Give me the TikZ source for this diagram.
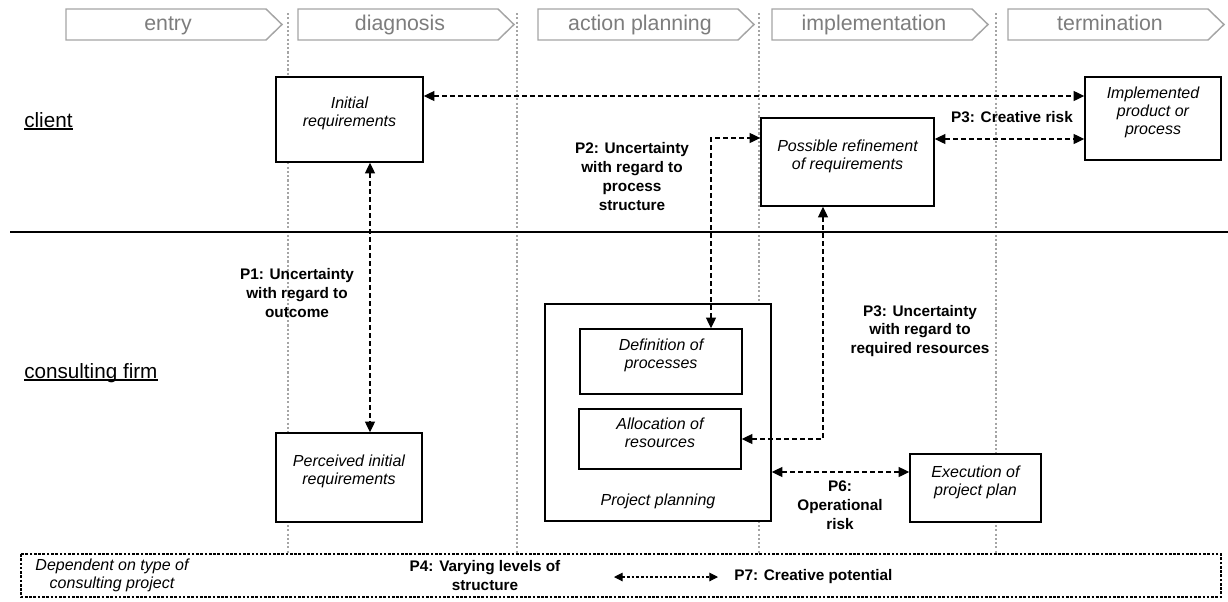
\documentclass[tikz,border=0pt]{standalone}
\usepackage{fontspec}
\setmainfont{Liberation Sans}
\usetikzlibrary{arrows.meta,fit}
\definecolor{phasegray}{RGB}{165,165,165}
\definecolor{phasetext}{RGB}{125,125,125}
\definecolor{gridgray}{RGB}{165,165,165}
\newcommand{\myul}[1]{\setbox0\hbox{#1}\rlap{\rule[-2pt]{\wd0}{0.9pt}}\box0}
\begin{document}
\begin{tikzpicture}[x=0.75pt,y=-0.75pt,
  phase/.style={draw=phasegray, line width=1.1pt, fill=white},
  phaselabel/.style={text=phasetext, anchor=base, inner sep=0pt, font=\fontsize{16}{18}\selectfont},
  gridline/.style={draw=gridgray, line width=0.8pt, dash pattern=on 1.6pt off 1.6pt},
  box/.style={draw, line width=1.1pt, fill=white, inner sep=0pt, align=center, font=\itshape\fontsize{12}{13.6}\selectfont},
  itl/.style={align=center, inner sep=0pt, font=\itshape\fontsize{12}{13.6}\selectfont},
  lbl/.style={align=center, font=\bfseries\fontsize{11.5}{14.2}\selectfont, inner sep=0pt},
  lane/.style={anchor=base west, inner sep=0pt, font=\fontsize{15.5}{18}\selectfont},
  darr/.style={line width=0.9pt, dash pattern=on 3.5pt off 2.5pt, {Triangle[length=8pt,width=7.5pt]}-{Triangle[length=8pt,width=7.5pt]}},
  legarr/.style={line width=0.8pt, dash pattern=on 2pt off 1.5pt, {Triangle[length=6.5pt,width=6.5pt]}-{Triangle[length=6.5pt,width=6.5pt]}},
  extbox/.style={draw, line width=1pt, dash pattern=on 2pt off 1.2pt}
]
\useasboundingbox (0,0) rectangle (1228,601);

% phase arrows
\foreach \L/\t/\n in {66/entry/ph1, 298/diagnosis/ph2, 538/action planning/ph3, 772/implementation/ph4, 1008/termination/ph5} {
  \draw[phase] (\L,9) -- ++(200,0) -- ++(16,15.5) -- ++(-16,15.5) -- ++(-200,0) -- cycle;
  \node[phaselabel] (\n) at (\L+102,30.5) {\t};
}

% phase separators
\foreach \x in {288,517,759,996} {
  \draw[gridline] (\x,13) -- (\x,554);
}

% swimlane separator
\draw[line width=1.1pt] (10,232) -- (1228,232);

% lane labels
\node[lane] (client) at (24,127) {\myul{client}};
\node[lane] (firm) at (24,378) {\myul{consulting firm}};

% boxes
\node[box, fit={(276,77) (423,162)}] (IR) {Initial\\requirements};
\node[box, fit={(1085,77) (1221,160)}] (Impl) {Implemented\\product or\\process};
\node[box, fit={(761,118) (934,206)}] (PR) {Possible refinement\\of requirements};
\node[box, fit={(276,433) (422,522)}] (PIR) {Perceived initial\\requirements};
\node[box, fit={(545,304) (771,521)}] (PP) {};
\node[box, fit={(580,329) (742,394)}] (DP) {Definition of\\processes};
\node[box, fit={(579,409) (741,469)}] (AR) {Allocation of\\resources};
\node[box, fit={(910,454) (1041,522)}] (EX) {Execution of\\project plan};
\node[itl] (ppl) at (658,501) {Project planning};

% bottom frame
\draw[extbox] (21,554) rectangle (1221,597);
\node[itl] (dep) at (112,575.5) {Dependent on type of\\consulting project};

% connectors
\draw[darr] (IR.east |- 0,96) -- (Impl.west |- 0,96);
\draw[darr] (PR.east |- 0,139) -- (Impl.west |- 0,139);
\draw[darr] (DP.north -| 711,0) |- (PR.west |- 0,138);
\draw[darr] (IR.south -| 370,0) -- (PIR.north -| 370,0);
\draw[darr] (PR.south -| 823,0) |- (AR.east |- 0,439);
\draw[darr] (PP.east |- 0,472) -- (EX.west |- 0,472);
\coordinate (l1) at (614,577);
\coordinate (l2) at (718,577);
\draw[legarr] (l1) -- (l2);

% labels
\node[lbl] (p1) at (297,293) {P1: Uncertainty\\with regard to\\outcome};
\node[lbl] (p2) at (632,176.5) {P2: Uncertainty\\with regard to\\process\\structure};
\node[lbl] (p3a) at (1012,117) {P3: Creative risk};
\node[lbl] (p3b) at (920,331) {P3: Uncertainty\\with regard to\\required resources};
\node[lbl] (p6) at (840,505) {P6:\\Operational\\risk};
\node[lbl] (p4) at (485,575.5) {P4: Varying levels of\\structure};
\node[lbl, anchor=west] (p7) at (734,577) {P7: Creative potential};
\end{tikzpicture}
\end{document}
